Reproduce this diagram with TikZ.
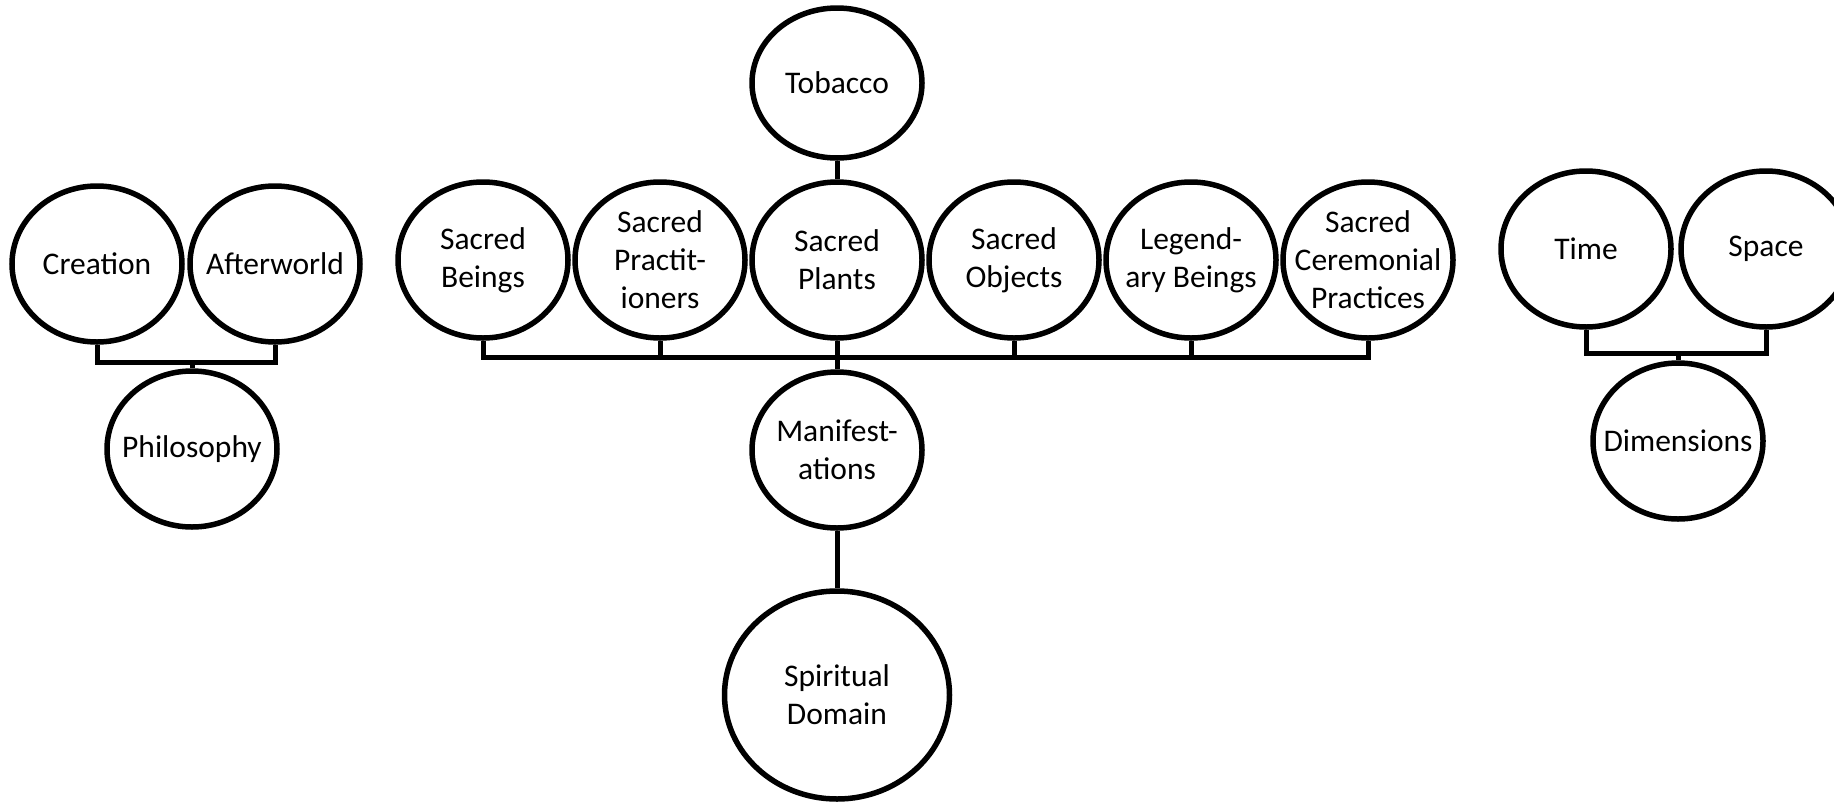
\documentclass[tikz,border=0pt]{standalone}
\usepackage{fontspec}
\setmainfont{Carlito}
\usetikzlibrary{shapes.geometric, positioning}

\tikzset{
  bubble/.style={ellipse, draw, line width=5.5pt, minimum width=170pt, minimum height=156pt, inner sep=0pt},
  bigbubble/.style={bubble, minimum width=225pt, minimum height=208pt},
  bubtext/.style={align=center, font=\fontsize{31.5}{38}\selectfont, inner sep=0pt},
  link/.style={line width=5pt}
}

\begin{document}
\begin{tikzpicture}[x=1pt, y=-1pt, node distance=177pt, on grid, every label/.style={bubtext}]
  \useasboundingbox (0,0) rectangle (1834,801);

  % left group
  \node[bubble, label=center:Creation] (crea) at (97,264) {};
  \node[bubble, label=center:Afterworld] (aftw) [right=178pt of crea] {};
  \node[bubble, label=center:Philosophy] (phil) at (192,449) {};

  % middle row
  \node[bubble, label={center:Sacred\\Beings}] (beings) at (483,260) {};
  \node[bubble, label={center:Sacred\\Practit-\\ioners}] (pract) [right=of beings] {};
  \node[bubble, label={center:Sacred\\Plants}] (plants) [right=of pract] {};
  \node[bubble, label={center:Sacred\\Objects}] (objects) [right=of plants] {};
  \node[bubble, label={center:Legend-\\ary Beings}] (legend) [right=of objects] {};
  \node[bubble, label={center:Sacred\\Ceremonial\\Practices}] (cerem) [right=of legend] {};
  \node[bubble, minimum height=150pt, label=center:Tobacco] (tobacco) [above=177pt of plants] {};
  \node[bubble, label={center:Manifest-\\ations}] (manif) [below=190pt of plants] {};
  \node[bigbubble, label={center:Spiritual\\Domain}] (spirit) [below=245pt of manif] {};

  % right group
  \node[bubble, label=center:Time] (time) at (1586,249) {};
  \node[bubble, label=center:Space] (space) [right=180pt of time] {};
  \node[bubble, label=center:Dimensions] (dims) at (1678,441) {};

  % connectors
  \coordinate (cabar) at (phil |- 0,362);
  \coordinate (bus) at (plants |- 0,357);
  \coordinate (tsbar) at (dims |- 0,353);

  \draw[link] (crea.south) |- (cabar) -| (aftw.south);
  \draw[link] (cabar) -- (phil.north);

  \draw[link] (beings.south) |- (bus) -| (cerem.south);
  \foreach \n in {pract, plants, objects, legend}
    \draw[link] (\n.south) -- (\n.south |- bus);
  \draw[link] (bus) -- (manif.north);
  \draw[link] (tobacco.south) -- (plants.north);
  \draw[link] (manif.south) -- (spirit.north);

  \draw[link] (time.south) |- (tsbar) -| (space.south);
  \draw[link] (tsbar) -- (dims.north);
\end{tikzpicture}
\end{document}
